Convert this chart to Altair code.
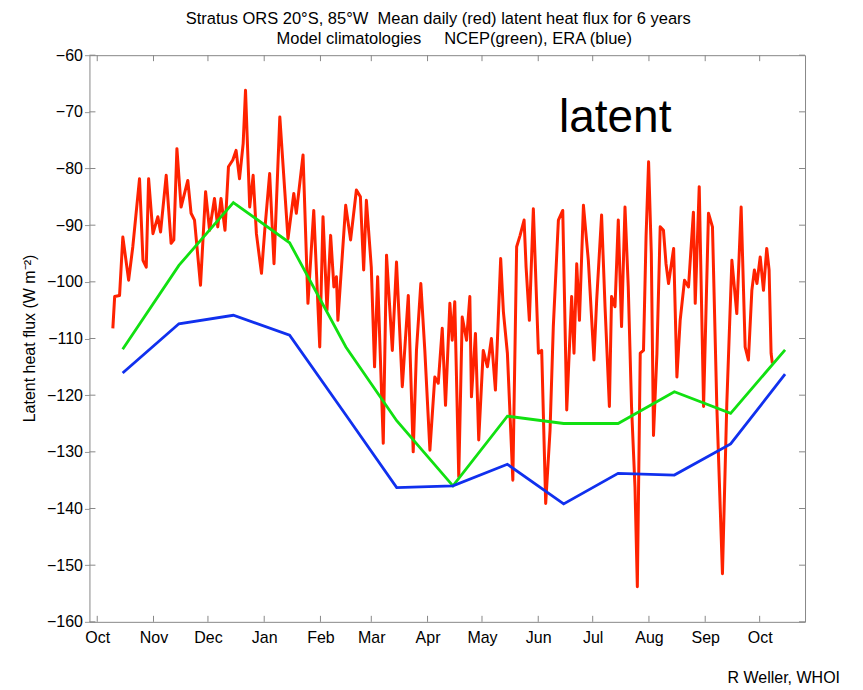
import altair as alt
import pandas as pd

# ---------------- data ----------------
# model climatologies (mid-month values, Oct .. Oct)
clim_dates = ["2000-10-15", "2000-11-15", "2000-12-15", "2001-01-15", "2001-02-15",
              "2001-03-15", "2001-04-15", "2001-05-15", "2001-06-15", "2001-07-15",
              "2001-08-15", "2001-09-15", "2001-10-15"]
ncep = [-111.9, -97.1, -86.0, -93.1, -111.5, -124.5, -136.0, -123.7, -125.0, -125.0,
        -119.4, -123.2, -112.0]
era = [-116.1, -107.4, -105.9, -109.4, -123.5, -136.3, -136.0, -132.2, -139.2, -133.8,
       -134.1, -128.6, -116.3]

# mean daily buoy latent heat flux (days after 1 Oct, W m-2)
red_day = [8.6, 9.6, 12.3, 14.1, 17.3, 19.6, 23.3, 25.2, 27.0, 28.3,
           30.7, 33.4, 34.9, 38.0, 40.7, 42.2, 43.9, 46.2, 48.1, 49.9,
           51.7, 53.6, 56.9, 59.7, 61.9, 64.6, 66.4, 68.2, 70.4, 72.3,
           74.7, 76.5, 78.4, 80.4, 81.7,
           84.0, 85.9, 87.7, 90.5, 92.3, 95.0, 97.4, 100.6, 103.3, 105.1,
           108.3, 109.7, 113.4, 116.1, 119.3, 122.6, 124.4, 126.6, 128.6, 130.4,
           131.8, 132.6, 136.9, 139.6, 142.8, 145.0, 146.8, 148.3, 151.0, 152.8,
           154.5, 157.6, 159.4, 162.6, 164.9, 168.1, 171.4, 174.1, 175.9, 178.3,
           180.5, 183.3, 186.0, 187.9, 190.1, 191.9, 194.3, 195.6, 197.0, 199.2,
           201.1, 203.5, 205.3, 206.2, 208.4, 210.2, 212.7, 215.0, 217.2, 219.4,
           222.3,
           223.8, 226.0, 229.0, 231.1, 233.0, 235.2, 236.3, 238.1, 240.3, 243.1,
           244.9, 247.1, 249.5, 251.3, 254.1, 256.5, 258.7, 261.4, 262.7, 264.2,
           265.7, 267.9, 270.6, 273.7, 275.2, 277.9, 279.8, 282.2, 283.4, 285.3,
           287.1, 288.9, 290.8, 292.6, 294.4, 296.3, 297.6,
           299.2, 301.0, 302.4, 303.8, 305.3, 306.5, 308.4, 310.2, 312.0, 313.4,
           314.8, 317.6, 319.4, 321.2, 323.6, 325.8, 328.5, 329.5, 331.7, 334.1,
           336.8, 339.0, 341.4, 344.5, 346.9, 349.7, 352.4, 354.8, 357.0, 358.8,
           360.7, 362.1, 363.5, 365.3, 367.1, 368.9, 370.2, 371.3, 372.0]
red_val = [-108.2, -102.6, -102.4, -92.1, -99.7, -93.8, -81.8, -96.2, -97.4, -81.8,
           -91.5, -88.5, -91.2, -81.2, -93.2, -92.6, -76.5, -86.8, -84.4, -82.1,
           -87.9, -89.1, -100.6, -84.1, -90.9, -85.3, -90.3, -85.3, -90.9, -79.7,
           -78.5, -76.8, -81.8, -75.6, -66.2,
           -86.8, -81.2, -91.5, -98.5, -90.9, -80.9, -96.8, -70.9, -83.8, -92.4,
           -84.4, -87.9, -77.6, -103.8, -87.4, -111.5, -88.5, -105.0, -91.8, -100.9,
           -99.1, -106.8, -86.5, -92.6, -83.8, -85.0, -97.9, -85.6, -97.4, -115.0,
           -99.1, -128.5, -95.3, -112.1, -96.5, -118.5, -102.4, -130.0, -112.1, -100.3,
           -112.1, -129.7, -116.8, -117.9, -108.2, -121.8, -103.8, -110.3, -103.5, -134.4,
           -106.2, -110.3, -102.6, -120.3, -109.1, -127.9, -112.1, -115.0, -110.0, -119.1,
           -95.9,
           -105.3, -112.6, -135.0, -93.8, -91.8, -89.1, -97.4, -106.8, -87.1, -112.6,
           -112.1, -139.1, -126.2, -107.9, -89.1, -87.4, -122.6, -102.6, -112.6, -96.8,
           -106.8, -86.5, -96.2, -113.8, -103.2, -88.2, -104.4, -122.0, -102.6, -104.4,
           -89.1, -107.9, -86.8, -100.9, -122.0, -136.2, -153.8,
           -112.6, -112.1, -92.1, -78.8, -95.0, -127.1, -112.6, -90.3, -90.9, -96.8,
           -100.3, -94.1, -116.8, -106.8, -99.7, -100.9, -87.7, -103.8, -83.2, -122.0,
           -87.9, -90.3, -122.0, -151.5, -121.5, -96.2, -105.6, -86.8, -111.5, -113.8,
           -101.5, -97.9, -100.3, -95.6, -101.5, -94.1, -97.9, -112.6, -114.4]

month_ticks = ["2000-10-01", "2000-11-01", "2000-12-01", "2001-01-01", "2001-02-01",
               "2001-03-01", "2001-04-01", "2001-05-01", "2001-06-01", "2001-07-01",
               "2001-08-01", "2001-09-01", "2001-10-01"]
y_ticks = [-160, -150, -140, -130, -120, -110, -100, -90, -80, -70, -60]

NB = "\u00a0"
title1 = "Stratus ORS 20°S, 85°W" + NB * 2 + "Mean daily (red) latent heat flux for 6 years"
title2 = "Model climatologies" + NB * 5 + "NCEP(green), ERA (blue)"
ytitle = "Latent heat flux (W m⁻²)"
credit = "R Weller, WHOI"
label_text = "latent"
label_day = 285.4
label_val = -73.5

# ---------------- frames ----------------
BASE = pd.Timestamp("2000-10-01")
def iso(ts):
    return ts.strftime("%Y-%m-%dT%H:%M:%SZ")

red_df = pd.DataFrame({
    "date": [iso(BASE + pd.to_timedelta(d, unit="D")) for d in red_day],
    "v": red_val})
clim_df = pd.DataFrame({
    "date": [d + "T00:00:00Z" for d in clim_dates] * 2,
    "v": ncep + era,
    "src": ["NCEP"] * len(ncep) + ["ERA"] * len(era)})
mt_df = pd.DataFrame({"date": [d + "T00:00:00Z" for d in month_ticks]})
yt_df = pd.DataFrame({"v": y_ticks})
lab_df = pd.DataFrame({"date": [iso(BASE + pd.to_timedelta(label_day, unit="D"))],
                       "v": [label_val], "t": [label_text]})

W, H = 716, 567
FONT = "Liberation Sans"

x_scale = alt.Scale(type="utc", domain=[
    alt.DateTime(year=2000, month=9, date=26, hours=17, utc=True),
    alt.DateTime(year=2001, month=10, date=26, utc=True)])
y_scale = alt.Scale(domain=[-160, -60], nice=False, zero=False)

x_axis = alt.Axis(values=[alt.DateTime(year=int(d[:4]), month=int(d[5:7]), date=1, utc=True)
                          for d in month_ticks],
                  format="%b", ticks=False, domain=False, grid=False,
                  labelFont=FONT, labelFontSize=16, labelColor="black",
                  labelPadding=8, labelFlush=False, labelOverlap=False, title=None)
y_axis = alt.Axis(values=y_ticks, ticks=True, tickSize=5, tickColor="#999999",
                  domain=False, grid=False, labelFont=FONT, labelFontSize=16,
                  labelColor="black", labelPadding=2, labelFlush=False,
                  title=ytitle, titleFont=FONT, titleFontSize=16,
                  titleFontWeight="normal", titleColor="black",
                  titleAngle=270, titleX=-60, titleY=283,
                  titleAlign="center", titleBaseline="middle")

X = alt.X("date:T", scale=x_scale, axis=x_axis)
Y = alt.Y("v:Q", scale=y_scale, axis=y_axis)

red = alt.Chart(red_df).mark_line(color="#ff2200", strokeWidth=3.0,
                                  strokeJoin="round").encode(x=X, y=Y)
clim = alt.Chart(clim_df).mark_line(strokeWidth=2.8).encode(
    x=X, y=Y,
    color=alt.Color("src:N", scale=alt.Scale(domain=["NCEP", "ERA"],
                                              range=["#11e011", "#1030ee"]), legend=None),
    detail="src:N")

tick_b = alt.Chart(mt_df).mark_rule(color="#888888", strokeWidth=1).encode(
    x=X, y=alt.value(H), y2=alt.value(H - 6))
tick_t = alt.Chart(mt_df).mark_rule(color="#888888", strokeWidth=1).encode(
    x=X, y=alt.value(0), y2=alt.value(6))
tick_l = alt.Chart(yt_df).mark_rule(color="#888888", strokeWidth=1).encode(
    y=Y, x=alt.value(0), x2=alt.value(6))
tick_r = alt.Chart(yt_df).mark_rule(color="#888888", strokeWidth=1).encode(
    y=Y, x=alt.value(W - 6), x2=alt.value(W))

lab = alt.Chart(lab_df).mark_text(font=FONT, fontSize=46, color="black",
                                  align="center", baseline="alphabetic").encode(
    x=X, y=Y, text="t:N")

def free_text(txt, x, y, size, align="center"):
    return alt.Chart(pd.DataFrame({"t": [txt]})).mark_text(
        font=FONT, fontSize=size, color="black", align=align,
        baseline="alphabetic").encode(x=alt.value(x), y=alt.value(y), text="t:N")

t1 = free_text(title1, 349, -31, 16.5)
t2 = free_text(title2, 365, -11, 16.5)
cr = free_text(credit, 751, 628, 16, align="right")

chart = alt.layer(red, clim, tick_b, tick_t, tick_l, tick_r, lab, t1, t2, cr).properties(
    width=W, height=H,
    autosize=alt.AutoSizeParams(type="none"),
    padding={"left": 81.5, "top": 47, "right": 50, "bottom": 67},
    background="white",
).configure_view(stroke="#888888", strokeWidth=1)

chart.save("out.html", embed_options={"renderer": "svg", "actions": False})
